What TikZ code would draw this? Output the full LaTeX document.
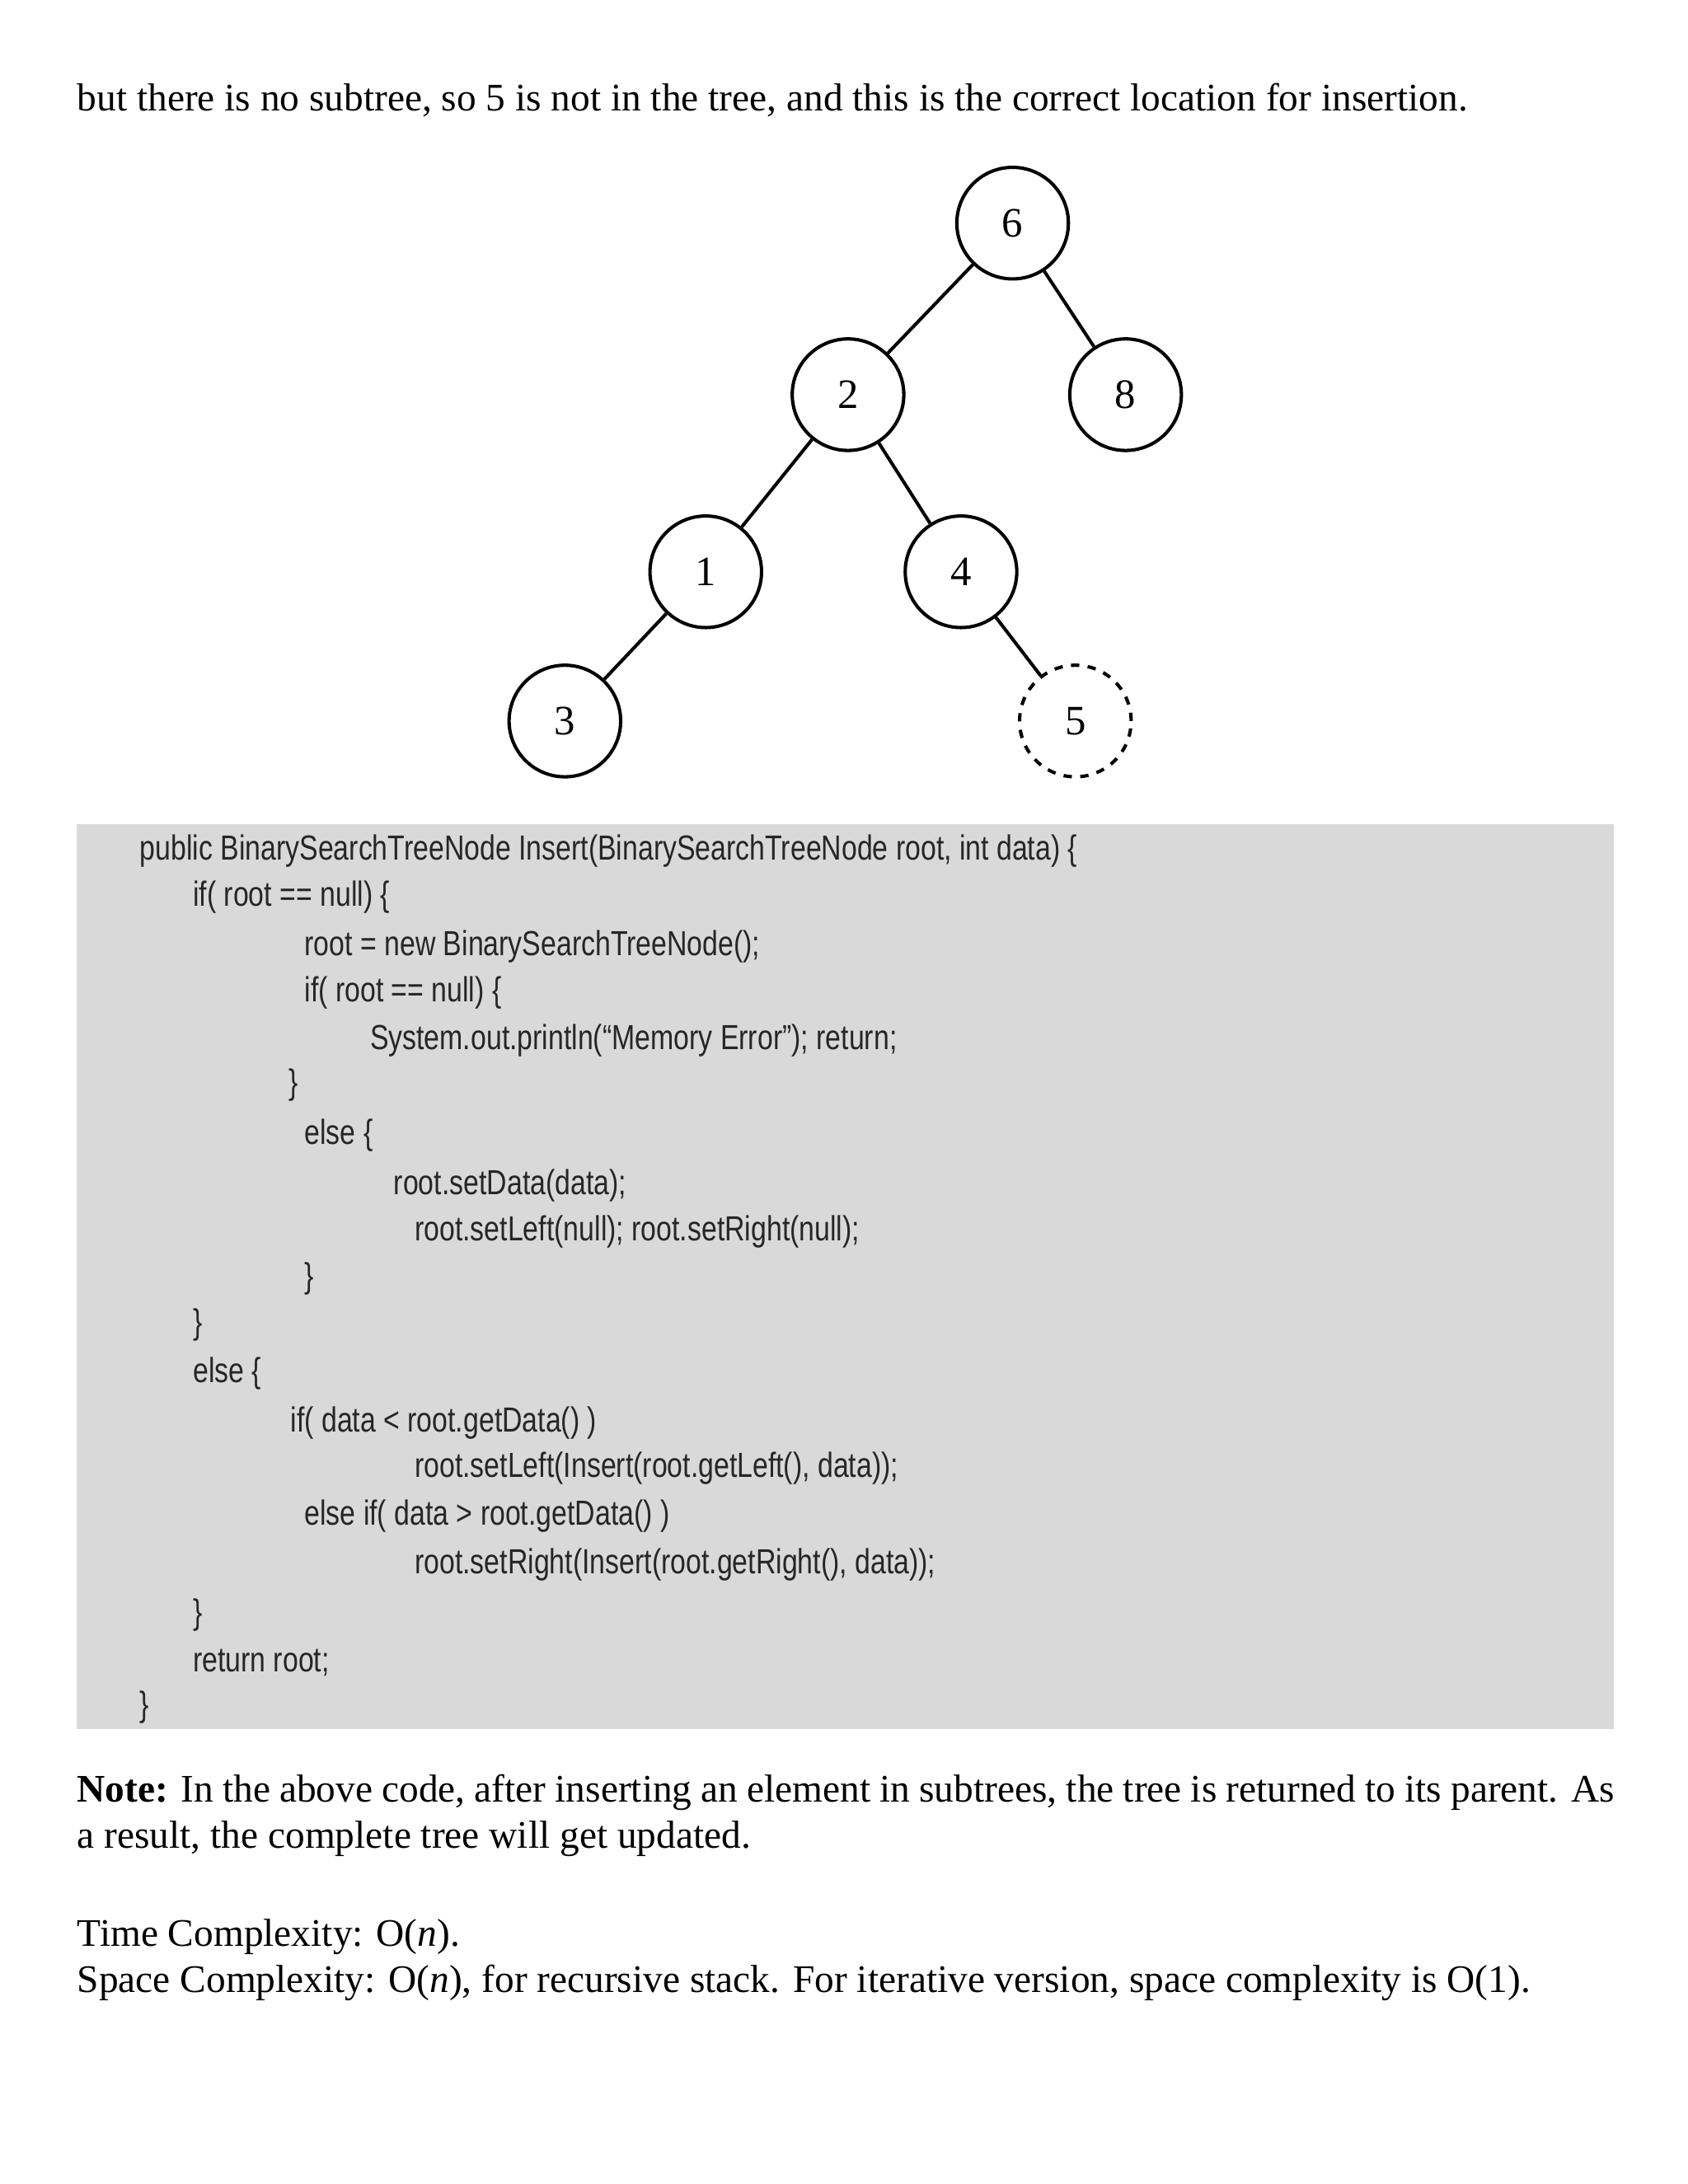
\documentclass[tikz,border=0pt]{standalone}
\usepackage{fontspec}
\setmainfont{Liberation Serif}
\newfontfamily\codefont[FakeStretch=0.8]{Liberation Sans}
\begin{document}
\begin{tikzpicture}[x=0.5pt,y=-0.5pt,
  tn/.style={circle,draw,line width=1.2pt,minimum size=40pt,inner sep=0pt,font=\fontsize{15}{15}\selectfont},
  cl/.style={anchor=west,inner sep=0pt,font=\codefont\fontsize{12.5}{14}\selectfont,text=black!85},
  tx/.style={anchor=west,inner sep=0pt,font=\fontsize{14}{16.5}\selectfont}]
\useasboundingbox[fill=white] (0,0) rectangle (1210,1566);
\node[tx] (t0) at (55,72) {but there is no subtree, so 5 is not in the tree, and this is the correct location for insertion.};
\node[tn] (n6) at (726,160) {6};
\node[tn] (n2) at (608,283) {2};
\node[tn] (n8) at (807,283) {8};
\node[tn] (n1) at (506,410) {1};
\node[tn] (n4) at (689,410) {4};
\node[tn] (n3) at (405,517) {3};
\node[tn,dashed] (n5) at (771,517) {5};
\draw[line width=1.2pt] (n6)--(n2) (n6)--(n8) (n2)--(n1) (n2)--(n4) (n1)--(n3) (n4)--(n5);
\fill[black!15] (55,591) rectangle (1157,1240);
\node[cl] (c1) at (100,610) {public BinarySearchTreeNode Insert(BinarySearchTreeNode root, int data) \{};
\node[cl] (c2) at (138,643) {if( root == null) \{};
\node[cl] (c3) at (218,679) {root = new BinarySearchTreeNode();};
\node[cl] (c4) at (218,712) {if( root == null) \{};
\node[cl] (c5) at (265,746) {System.out.println(“Memory Error”); return;};
\node[cl] (c6) at (207,778) {\}};
\node[cl] (c7) at (218,814) {else \{};
\node[cl] (c8) at (282,850) {root.setData(data);};
\node[cl] (c9) at (297,883) {root.setLeft(null); root.setRight(null);};
\node[cl] (c10) at (218,917) {\}};
\node[cl] (c11) at (138,950) {\}};
\node[cl] (c12) at (138,985) {else \{};
\node[cl] (c13) at (208,1020) {if( data < root.getData() )};
\node[cl] (c14) at (297,1053) {root.setLeft(Insert(root.getLeft(), data));};
\node[cl] (c15) at (218,1087) {else if( data > root.getData() )};
\node[cl] (c16) at (297,1122) {root.setRight(Insert(root.getRight(), data));};
\node[cl] (c17) at (138,1158) {\}};
\node[cl] (c18) at (138,1192) {return root;};
\node[cl] (c19) at (100,1224) {\}};
\node[tx,anchor=north west,text width=551pt,align=justify] (p1) at (55,1272) {\textbf{Note:} In the above code, after inserting an element in subtrees, the tree is returned to its parent. As a result, the complete tree will get updated.};
\node[tx] (p2) at (55,1389) {Time Complexity: O(\textit{n}).};
\node[tx] (p3) at (55,1422) {Space Complexity: O(\textit{n}), for recursive stack. For iterative version, space complexity is O(1).};
\end{tikzpicture}
\end{document}
